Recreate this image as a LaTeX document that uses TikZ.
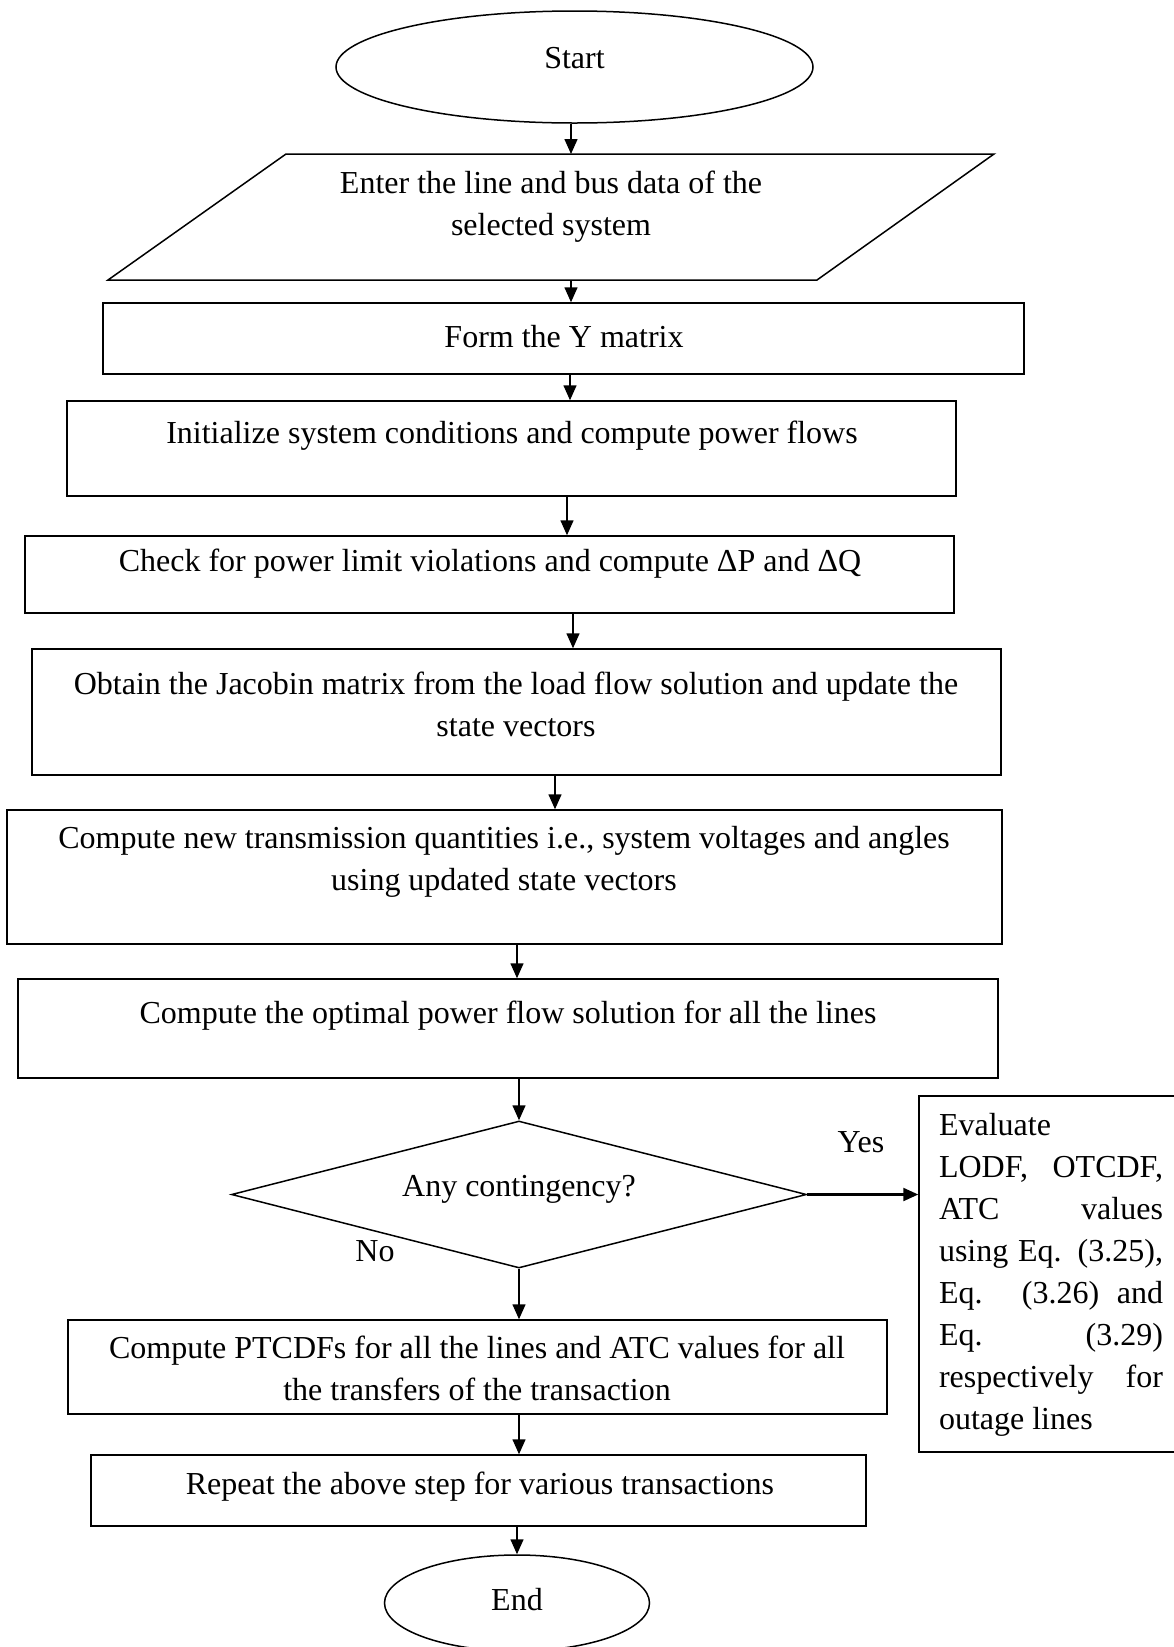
\documentclass[tikz,border=0pt]{standalone}
\usepackage{fontspec}
\setmainfont{Liberation Serif}
\usetikzlibrary{shapes.geometric,arrows.meta}
\begin{document}
\begin{tikzpicture}[x=1pt,y=-1pt,
  every node/.style={font=\fontsize{32}{42}\selectfont},
  box/.style={draw, line width=1.5pt, rectangle, inner sep=0pt},
  txt/.style={align=center, inner sep=0pt},
  arr/.style={line width=1.5pt, -{Triangle[length=15pt,width=13pt]}},
]
\useasboundingbox (0,0) rectangle (1174,1647);
\fill[white] (0,0) rectangle (1174,1647);

% columns of the arrows
\coordinate (ax1) at (571,0);
\coordinate (ax2) at (570,0);
\coordinate (ax3) at (567,0);
\coordinate (ax4) at (573,0);
\coordinate (ax5) at (555,0);
\coordinate (ax6) at (517,0);

% start
\node[draw, ellipse, line width=1.5pt, minimum width=477pt, minimum height=112pt, inner sep=0pt] (start) at (574.5,67) {};
\node[txt] (startt) at (574.5,58) {Start};

% input parallelogram
\coordinate (pa) at (286,154);
\coordinate (pb) at (994,154);
\coordinate (pc) at (817,280);
\coordinate (pd) at (108,280);
\draw[line width=1.5pt] (pa) -- (pb) -- (pc) -- (pd) -- cycle;
\node[txt] (enter) at (551,207) {Enter the line and bus data of the\\selected system};

% boxes
\node[box, minimum width=921pt, minimum height=71pt] (formy) at (563.5,338.5) {};
\node[txt] (formyt) at (564,337) {Form the Y matrix};

\node[box, minimum width=889pt, minimum height=95pt] (init) at (511.5,448.5) {};
\node[txt] (initt) at (512,436) {Initialize system conditions and compute power flows};

\node[box, minimum width=929pt, minimum height=77pt] (check) at (489.5,574.5) {};
\node[txt] (checkt) at (490,564) {Check for power limit violations and compute ΔP and ΔQ};

\node[box, minimum width=969pt, minimum height=126pt] (obtain) at (516.5,712) {};
\node[txt] (obtaint) at (516,704) {Obtain the Jacobin matrix from the load flow solution and update the\\state vectors};

\node[box, minimum width=995pt, minimum height=134pt] (compnew) at (504.5,877) {};
\node[txt] (compnewt) at (504,862) {Compute new transmission quantities i.e., system voltages and angles\\using updated state vectors};

\node[box, minimum width=980pt, minimum height=99pt] (opt) at (508,1028.5) {};
\node[txt] (optt) at (508,1016) {Compute the optimal power flow solution for all the lines};

% decision
\node[draw, diamond, line width=1.5pt, minimum width=575pt, minimum height=147pt, inner sep=0pt, aspect=3.9] (dec) at (519,1194.5) {};
\node[txt] (dect) at (519,1189) {Any contingency?};
\node[inner sep=0pt] (yes) at (861,1142) {Yes};
\node[inner sep=0pt] (no) at (375,1251) {No};

% contingency box
\node[box, minimum width=268pt, minimum height=356pt] (eval) at (1053,1274) {};
\node[inner sep=0pt, align=left] (evalt) at (1051,1275)
  {\frenchspacing
   \makebox[224pt][l]{Evaluate}\\
   \makebox[224pt][s]{LODF, OTCDF,}\\
   \makebox[224pt][s]{ATC values}\\
   \makebox[224pt][s]{using Eq. (3.25),}\\
   \makebox[224pt][s]{Eq. (3.26) and}\\
   \makebox[224pt][s]{Eq. (3.29)}\\
   \makebox[224pt][s]{respectively for}\\
   \makebox[224pt][l]{outage lines}};

\node[box, minimum width=819pt, minimum height=94pt] (ptcdf) at (477.5,1367) {};
\node[txt] (ptcdft) at (477,1368) {Compute PTCDFs for all the lines and ATC values for all\\the transfers of the transaction};

\node[box, minimum width=775pt, minimum height=71pt] (rep) at (478.5,1490.5) {};
\node[txt] (rept) at (480,1487) {Repeat the above step for various transactions};

% end
\node[draw, ellipse, line width=1.5pt, minimum width=265pt, minimum height=96pt, inner sep=0pt] (end) at (517,1603) {};
\node[txt] (endt) at (517,1600) {End};

% connectors
\draw[arr] (start.south -| ax1) -- (pa -| ax1);
\draw[arr] (pd -| ax1) -- (formy.north -| ax1);
\draw[arr] (formy.south -| ax2) -- (init.north -| ax2);
\draw[arr] (init.south -| ax3) -- (check.north -| ax3);
\draw[arr] (check.south -| ax4) -- (obtain.north -| ax4);
\draw[arr] (obtain.south -| ax5) -- (compnew.north -| ax5);
\draw[arr] (compnew.south -| ax6) -- (opt.north -| ax6);
\draw[arr] (opt.south -| dec.north) -- (dec.north);
\draw[arr, line width=2.2pt] (dec.east) -- (dec.east -| eval.west);
\draw[arr] (dec.south) -- (ptcdf.north -| dec.south);
\draw[arr] (ptcdf.south -| dec.south) -- (rep.north -| dec.south);
\draw[arr] (rep.south -| end.north) -- (end.north);
\end{tikzpicture}
\end{document}
